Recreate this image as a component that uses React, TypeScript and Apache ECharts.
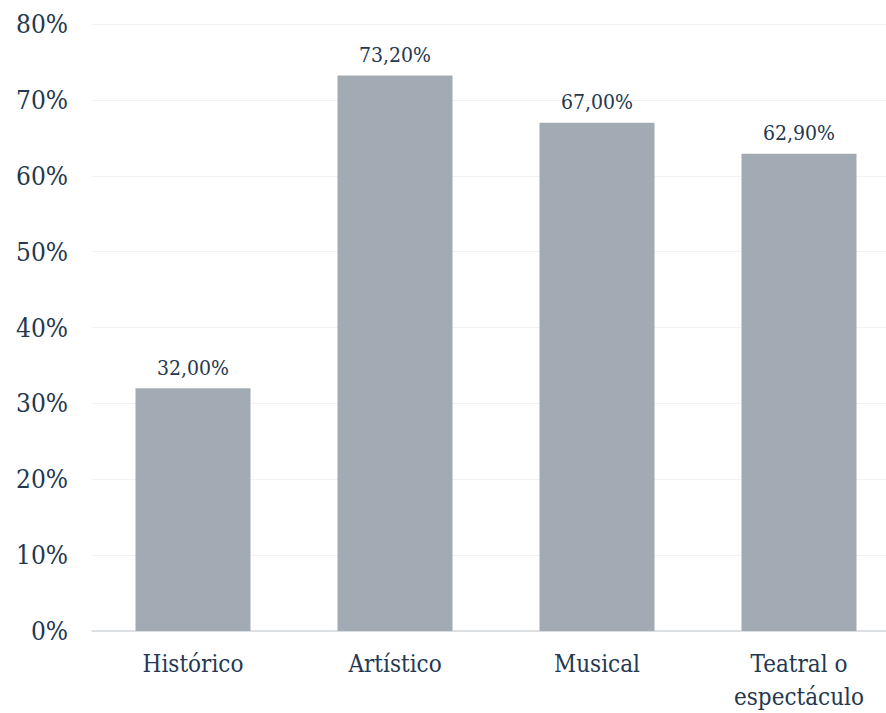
import React, { useEffect, useRef } from "react";
import * as echarts from "echarts";

const categories = ["Histórico", "Artístico", "Musical", "Teatral o\nespectáculo"];
const values = [32.0, 73.2, 67.0, 62.9];
const yTicks = [0, 10, 20, 30, 40, 50, 60, 70, 80];

const FONT = "DejaVu Serif Condensed";
const TEXT = "#243850";

export default function App() {
  const ref = useRef<HTMLDivElement>(null);
  useEffect(() => {
    if (!ref.current) return;
    const chart = echarts.init(ref.current, undefined, { renderer: "svg" });
    chart.setOption({
      animation: false,
      backgroundColor: "#ffffff",
      textStyle: { fontFamily: FONT },
      grid: { left: 92, right: 0, top: 24, bottom: 81, containLabel: false },
      xAxis: {
        type: "category",
        data: categories,
        axisLine: { show: true, lineStyle: { color: "#d3d7db", width: 1.5 } },
        axisTick: { show: false },
        axisLabel: {
          color: TEXT,
          fontFamily: FONT,
          fontSize: 24,
          lineHeight: 33,
          margin: 16,
          interval: 0,
        },
      },
      yAxis: {
        type: "value",
        min: yTicks[0],
        max: yTicks[yTicks.length - 1],
        interval: 10,
        axisLine: { show: false },
        axisTick: { show: false },
        splitLine: { show: true, lineStyle: { color: "#f1f2f4", width: 1 } },
        axisLabel: {
          color: TEXT,
          fontFamily: FONT,
          fontSize: 26,
          margin: 24,
          formatter: (v: number) => `${v}%`,
        },
      },
      series: [
        {
          type: "bar",
          data: values,
          barWidth: 115,
          itemStyle: { color: "#a2abb4" },
          label: {
            show: true,
            position: "top",
            distance: 10,
            color: TEXT,
            fontFamily: FONT,
            fontSize: 21,
            formatter: (p: any) => `${p.value.toFixed(2).replace(".", ",")}%`,
          },
        },
      ],
    });
    return () => chart.dispose();
  }, []);
  return (
    <div style={{ position: "fixed", left: 0, top: 0, width: 886, height: 713, overflow: "hidden", background: "#fff" }}>
      <div ref={ref} style={{ width: 900, height: 713 }} />
    </div>
  );
}
